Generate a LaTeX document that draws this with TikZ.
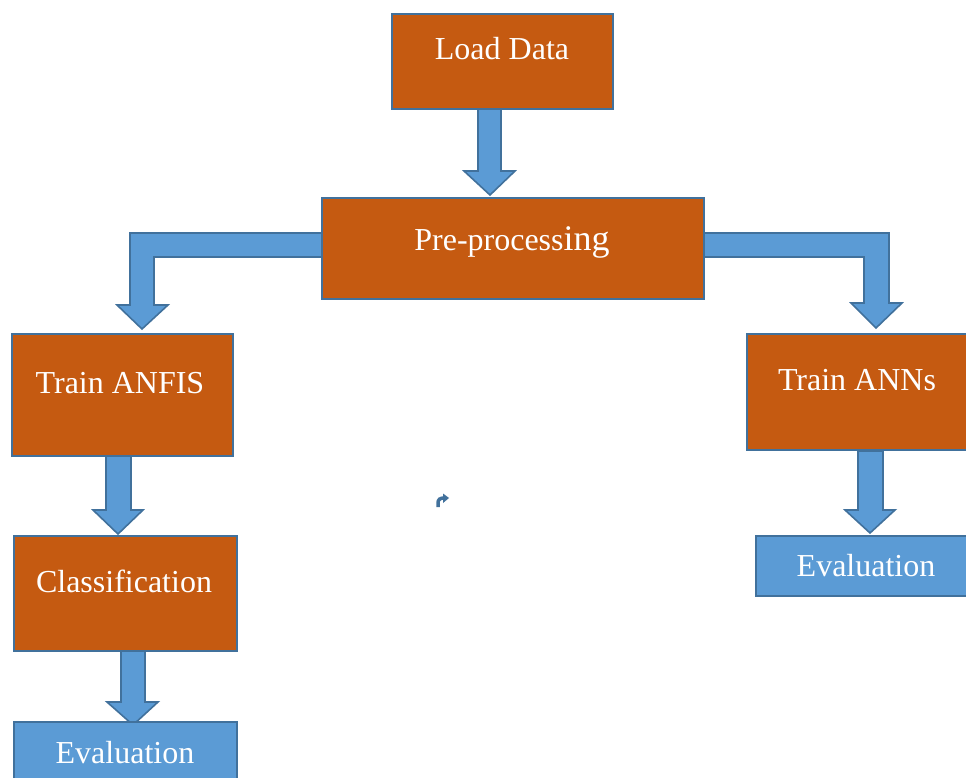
\documentclass[tikz,border=0pt]{standalone}
\usepackage{fontspec}
\setmainfont{Liberation Serif}
\definecolor{boxorange}{HTML}{C55A11}
\definecolor{arrowblue}{HTML}{5B9BD5}
\definecolor{edgeblue}{HTML}{41719C}
\begin{document}
\begin{tikzpicture}[x=1pt,y=-1pt,
  stepbox/.style={draw=edgeblue, line width=2.2pt, fill=boxorange, inner sep=0pt, anchor=north west},
  evalbox/.style={draw=edgeblue, line width=2.2pt, fill=arrowblue, inner sep=0pt, anchor=north west},
  blockarrow/.style={draw=edgeblue, line width=1.6pt, fill=arrowblue, line join=miter},
  lbl/.style={text=white, font=\fontsize{32}{36}\selectfont, anchor=base, inner sep=0pt}]
\useasboundingbox (0,0) rectangle (966,778);
\clip (0,0) rectangle (966,778);
\fill[white] (0,0) rectangle (966,778);
% block arrows
\draw[blockarrow] (478,108) -- (501,108) -- (501,171) -- (515,171) -- (490,195) -- (464,171) -- (478,171) -- cycle;
\draw[blockarrow] (330,233) -- (130,233) -- (130,305) -- (117,305) -- (142,329) -- (168,305) -- (154,305) -- (154,257) -- (330,257) -- cycle;
\draw[blockarrow] (695,233) -- (889,233) -- (889,303) -- (902,303) -- (876,328) -- (851,303) -- (864,303) -- (864,257) -- (695,257) -- cycle;
\draw[blockarrow] (106,453) -- (131,453) -- (131,510) -- (143,510) -- (118,534) -- (93,510) -- (106,510) -- cycle;
\draw[blockarrow] (121,648) -- (145,648) -- (145,702) -- (158,702) -- (133,725) -- (107,702) -- (121,702) -- cycle;
\draw[blockarrow] (858,451) -- (883,451) -- (883,510) -- (895,510) -- (870,533) -- (845,510) -- (858,510) -- cycle;
% boxes
\node[stepbox, minimum width=221pt, minimum height=95pt] (load) at (391,13) {};
\node[stepbox, minimum width=382pt, minimum height=101pt] (pre) at (321,197) {};
\node[stepbox, minimum width=221pt, minimum height=122pt] (anfis) at (11,333) {};
\node[stepbox, minimum width=223pt, minimum height=115pt] (class) at (13,535) {};
\node[evalbox, minimum width=223pt, minimum height=80pt] (evl) at (13,721) {};
\node[stepbox, minimum width=240pt, minimum height=116pt] (anns) at (746,333) {};
\node[evalbox, minimum width=230pt, minimum height=60pt] (evr) at (755,535) {};
% labels
\node[lbl] (tload) at (502,60) {Load Data};
\node[lbl] (tpre) at (512,250) {\fontsize{32}{36}\selectfont Pre-process\fontsize{36}{40}\selectfont ing};
\node[lbl] (tanfis) at (120,393) {Train ANFIS};
\node[lbl] (tclass) at (124,592) {Classification};
\node[lbl] (tevl) at (125,763) {Evaluation};
\node[lbl] (tanns) at (857,390) {Train ANNs};
\node[lbl] (tevr) at (866,576) {Evaluation};
% small bent arrow icon
\draw[edgeblue, line width=3.5pt] (438,507) -- (438,503) .. controls (438,499.5) and (440,498) .. (444,498);
\fill[edgeblue] (443,493.5) -- (449,498) -- (443,503) -- cycle;
\end{tikzpicture}
\end{document}
